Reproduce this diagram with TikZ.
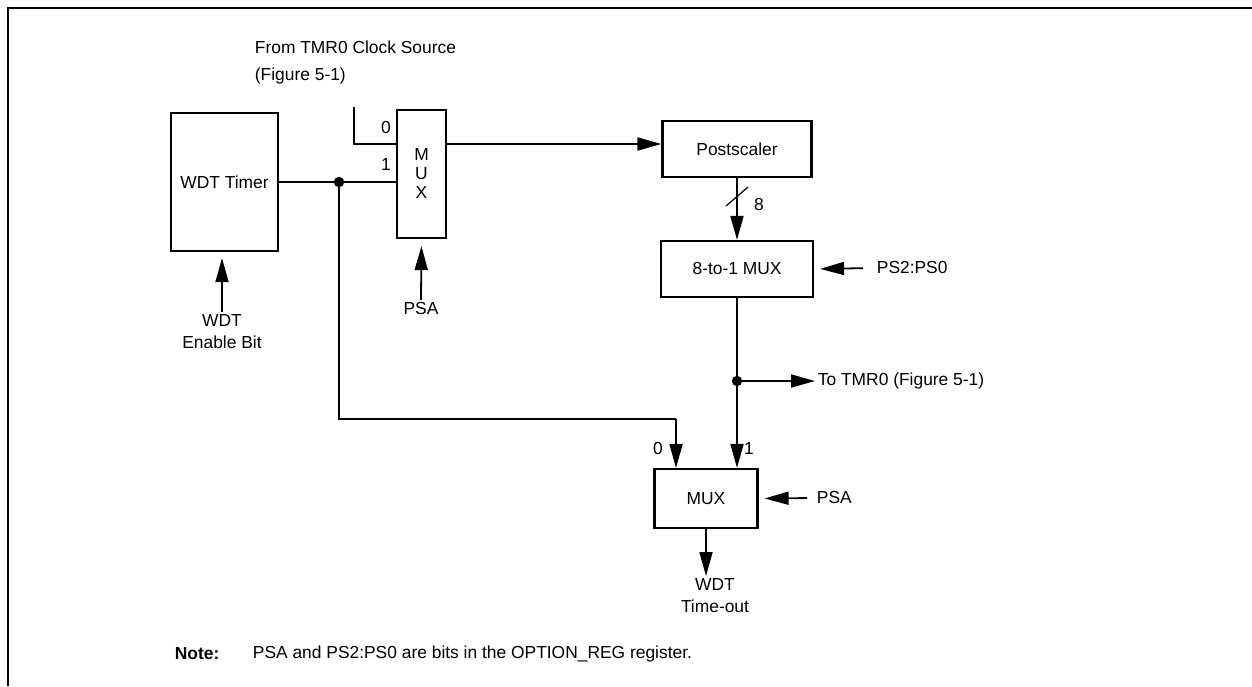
\documentclass[tikz,border=0pt]{standalone}
\usepackage{fontspec}
\setmainfont{Liberation Sans}
\usepackage{xcolor}
\usepackage{tikz}
\usetikzlibrary{arrows.meta}

\begin{document}
\begin{tikzpicture}[x=0.5pt, y=-0.5pt, line width=0.9pt, font=\fontsize{8.7}{11}\selectfont,
		blk/.style={draw, line width=1.1pt, inner sep=0pt},
		arr/.style={-{Triangle[length=12pt,width=6.5pt]}},
		lbl/.style={inner sep=1pt}]
			\useasboundingbox (0,0) rectangle (1252,686);
			\draw[line width=1.1pt] (8,686) -- (8,8) -- (1252,8);
			
			% Bloques
			\node[blk, minimum width=53.5pt, minimum height=69pt] (wdt) at (224.5,182) {WDT Timer};
			\node[blk, minimum width=24.5pt, minimum height=64pt, align=center, font=\fontsize{8.7}{9.5}\selectfont] (mux1) at (421.5,174) {M\\U\\X};
			\node[blk, minimum width=74.5pt, minimum height=28pt] (post) at (737,149) {Postscaler};
			\node[blk, minimum width=76pt, minimum height=28pt] (sel) at (737,269) {8-to-1 MUX};
			\node[blk, minimum width=51.5pt, minimum height=29.5pt] (mux2) at (706,498.5) {MUX};
			
			% Textos
			\node[lbl, anchor=west, align=left, font=\fontsize{8.7}{13.5}\selectfont] (src) at (252,62) {From TMR0 Clock Source\\(Figure 5-1)};
			\node[lbl, align=center] (en) at (222,332) {WDT\\Enable Bit};
			\node[lbl] (psa1) at (421,309) {PSA};
			\node[lbl, anchor=west] (ps) at (874,268) {PS2:PS0};
			\node[lbl, anchor=west] (tmr) at (815,381) {To TMR0 (Figure 5-1)};
			\node[lbl, anchor=west] (psa2) at (814,498) {PSA};
			\node[lbl, align=center] (out) at (715,596) {WDT\\Time-out};
			\node[lbl] (a0) at (386,128) {0};
			\node[lbl] (a1) at (386,165) {1};
			\node[lbl] (b0) at (658,449) {0};
			\node[lbl] (b1) at (749,449) {1};
			\node[lbl] (n8) at (759,205) {8};
			\node[lbl, anchor=west, font=\fontsize{8.7}{11}\selectfont\bfseries] (note) at (172,654) {Note:};
			\node[lbl, anchor=west] (notetxt) at (250,654) {PSA and PS2:PS0 are bits in the OPTION\_REG register.};
			
			\coordinate (clk) at (354,107);
			\coordinate (i0) at (397,144);
			\coordinate (j1) at (339,182);
			\coordinate (c0) at (676,419);
			\coordinate (j2) at (737,381);
			
			\draw (clk) |- (i0);
			\draw[arr] (mux1.east |- i0) -- (post.west |- i0);
			\draw (wdt.east) -- (wdt.east -| mux1.west);
			\draw (j1) |- (c0);
			\draw[arr] (c0) -- (c0 |- mux2.north);
			\fill (j1) circle (2.6pt);
			
			\draw[arr] (post.south) -- (sel.north);
			\draw[line width=0.6pt] (737,196) +(-11,10) -- +(11,-9);
			\draw[arr] (sel.south) -- (sel.south |- mux2.north);
			\fill (j2) circle (2.6pt);
			\draw[arr] (j2) -- (tmr.west);
			
			\draw[arr, shorten >=3pt] (en.north) -- (en.north |- wdt.south);
			\draw[arr, shorten >=3.5pt] (psa1.north) -- (mux1.south);
			\draw[arr, shorten >=3pt, shorten <=5.5pt] (ps.west) -- (sel.east);
			\draw[arr, shorten >=3pt, shorten <=3.5pt] (psa2.west) -- (mux2.east);
			\draw[arr] (mux2.south) -- (mux2.south |- out.north);
		\end{tikzpicture}
\end{document}
